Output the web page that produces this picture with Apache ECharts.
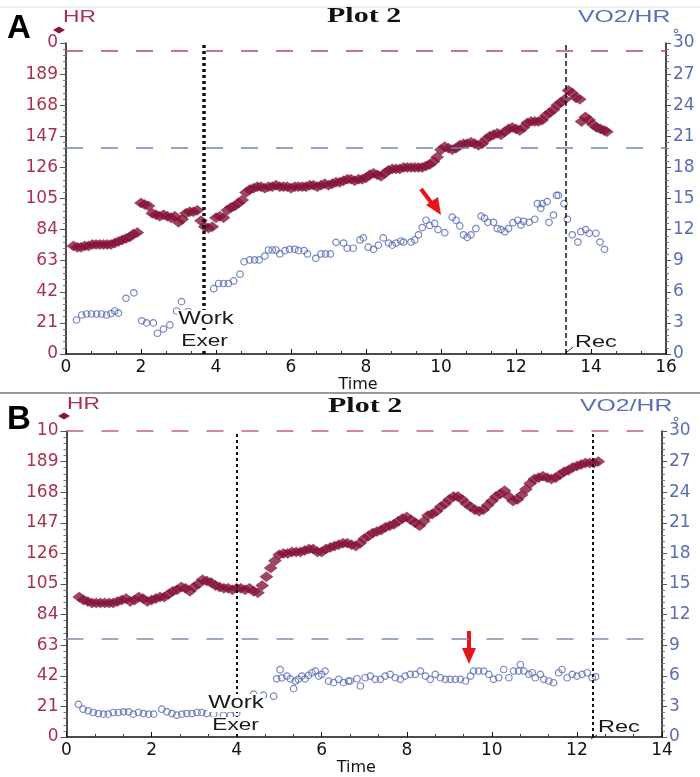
<!DOCTYPE html>
<html>
<head>
<meta charset="utf-8">
<script src="https://cdn.jsdelivr.net/npm/echarts@6/dist/echarts.min.js"></script>
<style>html,body{margin:0;padding:0;background:#fff}#c{width:700px;height:777px}</style>
</head>
<body>
<div id="c"></div>
<script>
// ---------- Panel A data ----------
const hrTimeA = [0.2,0.3,0.4,0.5,0.6,0.7,0.8,0.9,1.0,1.1,1.2,1.3,1.4,1.5,1.6,1.7,1.8,1.9,2.0,2.1,2.2,2.3,2.4,2.5,2.6,2.7,2.8,2.9,3.0,3.1,3.2,3.3,3.4,3.5,3.6,3.7,3.8,3.9,4.0,4.1,4.2,4.3,4.4,4.5,4.6,4.7,4.8,4.9,5.0,5.1,5.2,5.3,5.4,5.5,5.6,5.7,5.8,5.9,6.0,6.1,6.2,6.3,6.4,6.5,6.6,6.7,6.8,6.9,7.0,7.1,7.2,7.3,7.4,7.5,7.6,7.7,7.8,7.9,8.0,8.1,8.2,8.3,8.4,8.5,8.6,8.7,8.8,8.9,9.0,9.1,9.2,9.3,9.4,9.5,9.6,9.7,9.8,9.9,10.0,10.1,10.2,10.3,10.4,10.5,10.6,10.7,10.8,10.9,11.0,11.1,11.2,11.3,11.4,11.5,11.6,11.7,11.8,11.9,12.0,12.1,12.2,12.3,12.4,12.5,12.6,12.7,12.8,12.9,13.0,13.1,13.2,13.3,13.4,13.5,13.6,13.7,13.75,13.85,13.95,14.05,14.15,14.25,14.35,14.42];
const hrA = [73,72,72,73,73,74,74,74,74,74,74,75,76,77,78,79,81,82,102,101,100,95,94,93,94,93,92,93,89,91,95,96,96,97,90,86,85,86,92,93,92,97,99,100,102,104,109,111,112,113,113,112,113,113,114,113,113,113,112,113,113,113,113,114,114,113,114,115,114,115,116,116,117,118,118,117,118,118,119,121,122,121,120,122,124,125,125,125,126,126,126,126,126,126,127,128,130,133,138,140,139,138,139,141,142,142,143,142,141,142,145,147,148,149,148,150,152,153,152,151,153,156,157,157,157,158,161,163,165,168,170,172,178,176,173,172,157,160,158,155,153,152,151,150];
const voTimeA = [0.28,0.42,0.55,0.68,0.82,0.95,1.08,1.2,1.3,1.4,1.6,1.81,2.02,2.15,2.33,2.44,2.6,2.77,2.95,3.08,3.26,3.94,4.07,4.2,4.33,4.47,4.64,4.75,4.9,5.03,5.15,5.3,5.4,5.5,5.6,5.7,5.84,5.96,6.1,6.2,6.35,6.44,6.66,6.8,6.92,7.05,7.2,7.4,7.5,7.66,7.84,7.93,8.06,8.2,8.33,8.46,8.6,8.7,8.8,8.93,9.0,9.2,9.3,9.4,9.5,9.6,9.7,9.83,9.92,10.1,10.3,10.4,10.5,10.6,10.7,10.8,10.93,11.07,11.16,11.25,11.4,11.5,11.6,11.7,11.8,11.92,12.05,12.13,12.2,12.35,12.5,12.57,12.66,12.7,12.83,12.88,13.0,13.08,13.13,13.28,13.37,13.5,13.65,13.73,13.86,13.95,14.13,14.24,14.36];
const voA = [3.28,3.76,3.86,3.86,3.86,3.86,3.76,3.9,4.15,3.95,5.37,5.9,3.2,3.0,3.0,2.0,2.4,2.8,4.15,5.05,4.1,6.3,6.8,6.8,6.8,7.05,7.7,8.9,9.07,9.07,9.07,9.45,10.03,10.03,10.03,9.65,9.97,10.1,10.1,9.97,9.97,9.65,9.23,9.65,9.65,9.65,10.77,10.7,10.2,10.2,11.0,11.2,10.3,10.1,10.5,11.2,10.7,10.5,10.7,10.9,10.8,10.8,11.0,11.5,12.2,12.9,12.4,12.6,12.0,11.7,13.2,12.9,12.35,11.5,11.25,11.5,12.1,13.3,13.1,12.7,12.7,12.1,12.0,11.8,12.1,12.67,12.9,12.45,12.8,12.7,13.0,14.5,14.05,14.5,14.7,12.7,13.4,15.3,15.3,14.5,13.0,11.5,10.8,11.8,12.0,11.65,11.65,10.8,10.1];
const refA = {hrMax: 205, voRef: 19.9, work: 3.68, rec: 13.33};

// ---------- Panel B data ----------
const hrTimeB = [0.3,0.4,0.5,0.6,0.7,0.8,0.9,1.0,1.1,1.2,1.3,1.4,1.5,1.6,1.7,1.8,1.9,2.0,2.1,2.2,2.3,2.4,2.5,2.6,2.7,2.8,2.9,3.0,3.1,3.2,3.3,3.4,3.5,3.6,3.7,3.8,3.9,4.0,4.1,4.2,4.3,4.4,4.5,4.6,4.7,4.8,4.9,5.0,5.1,5.2,5.3,5.4,5.5,5.6,5.7,5.8,5.9,6.0,6.1,6.2,6.3,6.4,6.5,6.6,6.7,6.8,6.9,7.0,7.1,7.2,7.3,7.4,7.5,7.6,7.7,7.8,7.9,8.0,8.1,8.2,8.3,8.4,8.5,8.6,8.7,8.8,8.9,9.0,9.1,9.2,9.3,9.4,9.5,9.6,9.7,9.8,9.9,10.0,10.1,10.2,10.3,10.4,10.5,10.6,10.7,10.8,10.9,11.0,11.1,11.2,11.3,11.4,11.5,11.6,11.7,11.8,11.9,12.0,12.1,12.2,12.3,12.4,12.5];
const hrB = [96,94,93,92,92,92,92,92,92,93,94,95,93,94,96,95,93,94,95,96,96,98,100,101,103,102,100,103,105,108,107,106,104,103,102,102,101,102,102,101,102,100,99,104,110,116,121,125,126,126,127,127,127,128,129,129,127,127,129,130,131,132,133,133,132,131,133,136,138,140,141,142,144,145,146,148,150,151,149,147,145,148,152,153,155,158,160,163,165,165,163,160,158,156,155,156,159,162,165,167,169,165,162,163,166,170,174,177,178,179,178,177,178,180,182,183,185,186,187,188,188,188,189];
const voTimeB = [0.28,0.39,0.51,0.63,0.75,0.87,0.98,1.1,1.22,1.34,1.46,1.57,1.69,1.81,1.93,2.05,2.24,2.36,2.48,2.59,2.71,2.83,2.95,3.07,3.18,3.3,3.46,3.69,3.85,4.0,4.4,4.63,4.87,4.94,5.02,5.06,5.18,5.26,5.34,5.38,5.45,5.53,5.61,5.69,5.77,5.85,5.93,6.0,6.08,6.16,6.28,6.4,6.51,6.63,6.67,6.83,6.91,7.02,7.14,7.26,7.38,7.49,7.61,7.73,7.85,7.96,8.08,8.2,8.32,8.44,8.55,8.67,8.79,8.91,9.02,9.14,9.26,9.38,9.5,9.57,9.69,9.81,9.93,10.04,10.16,10.28,10.4,10.51,10.63,10.67,10.75,10.87,10.95,11.02,11.14,11.22,11.34,11.45,11.57,11.65,11.77,11.89,12.0,12.12,12.24,12.36,12.44];
const voB = [3.2,2.73,2.57,2.4,2.3,2.24,2.24,2.4,2.4,2.47,2.47,2.24,2.4,2.3,2.24,2.24,2.73,2.47,2.3,2.14,2.24,2.3,2.3,2.4,2.4,2.3,2.24,2.14,2.14,2.34,4.2,4.1,4.0,5.7,6.6,5.8,5.97,5.7,4.74,5.48,5.65,5.97,5.7,6.04,6.3,6.46,5.97,6.14,6.46,5.48,5.33,5.65,5.33,5.48,5.49,5.71,5.0,5.81,5.97,5.65,5.65,5.97,6.14,5.81,5.65,5.97,6.14,6.14,6.46,5.97,5.65,6.14,5.81,5.65,5.65,5.65,5.65,5.49,5.97,6.46,6.46,6.46,6.14,5.65,5.81,6.62,5.81,6.46,6.46,7.11,6.46,6.14,6.3,5.81,6.14,5.65,5.49,5.32,6.3,6.62,5.81,6.14,5.97,6.14,6.3,5.81,5.9];
const refB = {hrMax: 210, voRef: 9.6, work: 4.0, rec: 12.37};

// ---------- axis ticks ----------
const hrTicks = {min: 0, max: 210, interval: 21};
const voTicks = {min: 0, max: 30, interval: 3};
const timeTicksA = {min: 0, max: 16, interval: 2};
const timeTicksB = {min: 0, max: 14, interval: 2};
const topLabelA = '0';   // truncated top label as printed
const topLabelB = '10';

const HR_COL = '#8a1538';
const HR_LAB = '#a8324e';
const VO_COL = '#5468b2';
const VO_LAB = '#5a6eb4';
const FONT = 'Liberation Sans, Arial, sans-serif';
const WIDE = 'DejaVu Sans, Verdana, sans-serif';
const SX = 1.42; // horizontal stretch of the printed texts

function pairs(t, v) { return t.map((x, i) => [x, v[i]]); }

function xAxis(idx, ticks) {
  return {
    type: 'value', gridIndex: idx, min: ticks.min, max: ticks.max, interval: ticks.interval,
    name: 'Time', nameLocation: 'middle', nameGap: 23,
    nameTextStyle: {color: '#111', fontSize: 16, fontFamily: WIDE, padding: [0, 16, 0, 0]},
    axisLine: {show: true, onZero: false, lineStyle: {color: '#111', width: 1.5}},
    axisTick: {show: true, inside: true, length: 5, lineStyle: {color: '#111'}},
    minorTick: {show: true, splitNumber: 3, length: 3, lineStyle: {color: '#333'}},
    axisLabel: {color: '#111', fontSize: 17, fontFamily: WIDE, margin: 5},
    splitLine: {show: false}
  };
}
function hrAxis(idx, topLabel) {
  return {
    type: 'value', gridIndex: idx, position: 'left', min: hrTicks.min, max: hrTicks.max, interval: hrTicks.interval,
    axisLine: {show: true, onZero: false, lineStyle: {color: '#111', width: 1.5}},
    axisTick: {show: true, length: 6, lineStyle: {color: '#555'}},
    minorTick: {show: true, splitNumber: 5, length: 3, lineStyle: {color: '#777'}},
    axisLabel: {color: HR_LAB, fontSize: 17, fontFamily: WIDE, margin: 8,
      formatter: v => v === hrTicks.max ? topLabel : String(v)},
    splitLine: {show: false}
  };
}
function voAxis(idx) {
  return {
    type: 'value', gridIndex: idx, position: 'right', min: voTicks.min, max: voTicks.max, interval: voTicks.interval,
    axisLine: {show: true, onZero: false, lineStyle: {color: '#111', width: 1.5}},
    axisTick: {show: true, length: 5, lineStyle: {color: '#555'}},
    minorTick: {show: true, splitNumber: 5, length: 3, lineStyle: {color: '#777'}},
    axisLabel: {color: VO_LAB, fontSize: 17, fontFamily: WIDE, margin: 7},
    splitLine: {show: false}
  };
}
function hLine(val, color) {
  return {yAxis: val, lineStyle: {color: color, type: [17, 18], width: 1.5}};
}
function vLine(val, dash, width) {
  return {xAxis: val, lineStyle: {color: '#111', type: dash, width: width}};
}
function hrSeries(xi, yi, data, ref, workDash, workW, recDash, recW, hrLineCol) {
  return {
    type: 'scatter', xAxisIndex: xi, yAxisIndex: yi, data: data,
    symbol: 'diamond', symbolSize: [13, 10],
    itemStyle: {color: HR_COL, borderColor: '#6e0f2c', borderWidth: 0.5},
    markLine: {silent: true, symbol: ['none', 'none'], label: {show: false}, animation: false,
      data: [hLine(ref.hrMax, hrLineCol), vLine(ref.work, workDash, workW), vLine(ref.rec, recDash, recW)]},
    z: 3
  };
}
function voSeries(xi, yi, data, ref, col) {
  return {
    type: 'scatter', xAxisIndex: xi, yAxisIndex: yi, data: data,
    symbol: 'circle', symbolSize: 6.5,
    itemStyle: {color: 'rgba(255,255,255,0)', borderColor: VO_COL, borderWidth: 1.2},
    markLine: {silent: true, symbol: ['none', 'none'], label: {show: false}, animation: false,
      data: [hLine(ref.voRef, col)]},
    z: 2
  };
}

function txt(x, y, s, size, fill, extra, sx) {
  return {type: 'text', x: x, y: y, z: 50, scaleX: sx == null ? SX : sx,
    style: Object.assign({text: s, fontSize: size, fontFamily: FONT, fill: fill}, extra || {})};
}

const chart = echarts.init(document.getElementById('c'), null, {renderer: 'canvas'});
chart.setOption({
  animation: false,
  backgroundColor: '#fff',
  grid: [
    {left: 66, top: 43, width: 600, height: 311},
    {left: 66.5, top: 431, width: 595.5, height: 307}
  ],
  xAxis: [xAxis(0, timeTicksA), xAxis(1, timeTicksB)],
  yAxis: [hrAxis(0, topLabelA), voAxis(0), hrAxis(1, topLabelB), voAxis(1)],
  series: [
    hrSeries(0, 0, pairs(hrTimeA, hrA), refA, [3, 3], 3.5, [5, 3], 1.5, '#b84a64'),
    voSeries(0, 1, pairs(voTimeA, voA), refA, '#6f82c4'),
    hrSeries(1, 2, pairs(hrTimeB, hrB), refB, [3, 3], 2, [3, 3], 2, '#c06078'),
    voSeries(1, 3, pairs(voTimeB, voB), refB, '#7f8fb0')
  ],
  graphic: [
    {type: 'line', shape: {x1: 0, y1: 7, x2: 700, y2: 7}, style: {stroke: '#e4e4e4', lineWidth: 1}},
    {type: 'line', shape: {x1: 0, y1: 393, x2: 700, y2: 393}, style: {stroke: '#9a9a9a', lineWidth: 2}},
    // panel A labels
    txt(7, 12, 'A', 33, '#000', {fontWeight: 'bold'}, 1),
    txt(327, 7, 'Plot 2', 20, '#111', {fontFamily: 'Liberation Serif, Times New Roman, serif', fontWeight: 'bold'}, 1.5),
    txt(63, 10, 'HR', 16, HR_LAB),
    {type: 'polygon', shape: {points: [[53, 30], [59, 26.5], [65, 30], [59, 33.5]]}, style: {fill: HR_COL}},
    txt(578, 10, 'VO2/HR', 16, VO_LAB, null, 1.55),
    {type: 'circle', shape: {cx: 676, cy: 31, r: 1.8}, style: {fill: 'none', stroke: VO_COL, lineWidth: 1}},
    txt(177, 310, 'Work', 18, '#1a1a1a', {backgroundColor: '#fff', padding: [0, 1, 0, 1]}, 1.33),
    txt(180, 333, 'Exer', 17, '#1a1a1a', {backgroundColor: '#fff', padding: [0, 1, 0, 1]}, 1.33),
    txt(575, 334, 'Rec', 17, '#1a1a1a', null, 1.38),
    {type: 'polyline', shape: {points: [[573, 347], [567, 352]]}, style: {stroke: '#333', lineWidth: 1}},
    {type: 'line', shape: {x1: 421, y1: 189, x2: 433, y2: 205}, style: {stroke: '#e8141c', lineWidth: 4}},
    {type: 'polygon', shape: {points: [[426, 205], [438, 197], [441, 215]]}, style: {fill: '#e8141c'}},
    // panel B labels
    txt(7, 403, 'B', 33, '#000', {fontWeight: 'bold'}, 1),
    txt(328, 397, 'Plot 2', 20, '#111', {fontFamily: 'Liberation Serif, Times New Roman, serif', fontWeight: 'bold'}, 1.5),
    txt(67, 397, 'HR', 16, HR_LAB),
    {type: 'polygon', shape: {points: [[58, 416], [64, 412.5], [70, 416], [64, 419.5]]}, style: {fill: HR_COL}},
    txt(580, 399, 'VO2/HR', 16, VO_LAB, null, 1.55),
    {type: 'circle', shape: {cx: 676, cy: 419, r: 1.8}, style: {fill: 'none', stroke: VO_COL, lineWidth: 1}},
    txt(207, 694, 'Work', 18, '#1a1a1a', {backgroundColor: '#fff', padding: [0, 1, 0, 1]}, 1.33),
    txt(211, 717, 'Exer', 17, '#1a1a1a', {backgroundColor: '#fff', padding: [0, 1, 0, 1]}, 1.33),
    txt(598, 719, 'Rec', 17, '#1a1a1a', null, 1.38),
    {type: 'polyline', shape: {points: [[597, 735], [591, 739]]}, style: {stroke: '#333', lineWidth: 1}},
    {type: 'line', shape: {x1: 469, y1: 631, x2: 469, y2: 650}, style: {stroke: '#e8141c', lineWidth: 4}},
    {type: 'polygon', shape: {points: [[462, 648], [476, 648], [469, 664]]}, style: {fill: '#e8141c'}}
  ]
});
</script>
</body>
</html>
